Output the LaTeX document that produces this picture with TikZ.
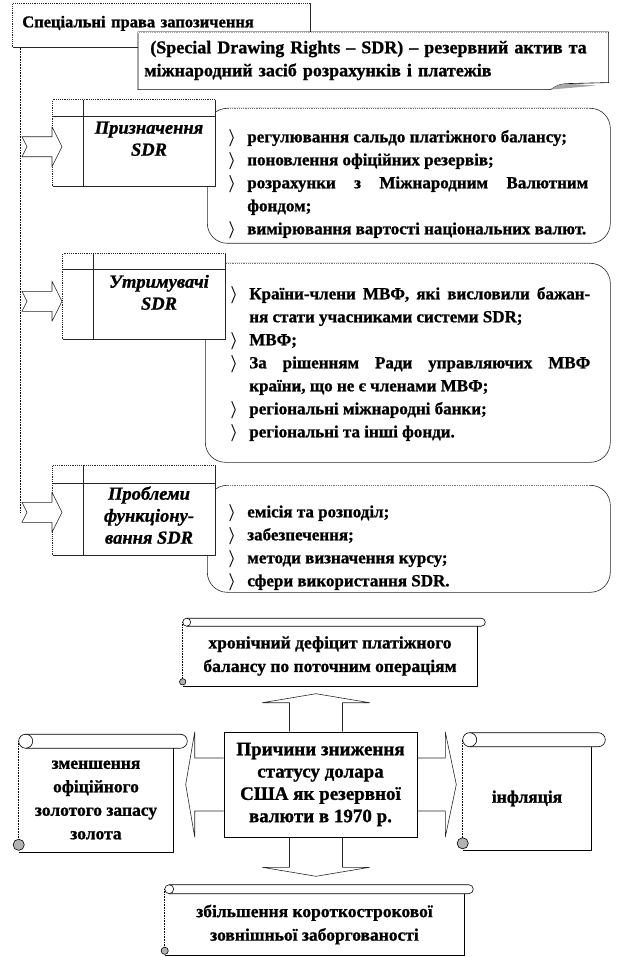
\documentclass[tikz,border=0pt]{standalone}
\usepackage{fontspec}
\setmainfont{Liberation Serif}[BoldFeatures={FakeBold=1},BoldItalicFeatures={FakeBold=1}]
\usetikzlibrary{calc,positioning}
\tikzstyle{every node}=[inner sep=0pt,font=\fontsize{17}{23}\selectfont\bfseries]
\tikzstyle{every path}=[line width=0.6pt,line join=round]
\tikzstyle{dotline}=[draw=white,dash pattern=on 1pt off 1.2pt,line width=0.8pt]
\tikzstyle{spineline}=[densely dotted,line width=0.9pt]
\tikzstyle{cell}=[anchor=north west,draw=black!85,fill=white]
\tikzstyle{listbox}=[anchor=north west,draw=black!85,rounded corners=20pt]
\tikzstyle{listtext}=[anchor=north west,align=justify]
\tikzstyle{celltext}=[anchor=north,align=center,font=\fontsize{18.5}{22}\selectfont\bfseries\itshape]
\tikzstyle{blockarrow}=[draw=black!85,fill=white]
\tikzstyle{scrolltext}=[align=center,font=\fontsize{17.5}{23.5}\selectfont\bfseries]
\hyphenpenalty=10000
\exhyphenpenalty=10000
\tolerance=9000
% bullet of the lists
\newcommand{\itm}{\par\hangindent=19pt\hangafter=1\noindent\makebox[19pt][l]{\boldmath$\rangle$}\strut}
% scroll round a text node: node, roll, half roll
\newcommand{\scrollframe}[3]{%
  \draw[fill=white,rounded corners=#3pt] ($(#1.north west)+(#3,-#2)$) -- ($(#1.north east)+(#2,-#2)$)
    -- ($(#1.north east)+(#2,0)$) -- ($(#1.north west)+(#3,0)$);
  \draw[fill=white] ($(#1.north west)+(#3,-#3)$) circle[radius=#3pt];
  \draw[densely dotted] ($(#1.north west)+(0,-#3)$) -- ($(#1.south west)+(0,-#3)$);
  \draw (#1.north east) -- (#1.south east) -- (#1.south west);
  \draw[fill=black!30] ($(#1.south west)+(0,-#3)$) circle[radius=0.8*#3pt];
}

\begin{document}
\begin{tikzpicture}[x=1pt,y=-1pt]
    \useasboundingbox (0,0) rectangle (621,957);

    % Title and definition
    \node[anchor=north west,draw=black!85,minimum width=298pt,text width=278pt,inner xsep=10pt,
          text height=24pt,text depth=20pt,align=left,font=\fontsize{16.5}{23}\selectfont\bfseries] (title) at (12,3)
        {Спеціальні права запозичення};
    \draw[dotline] (title.south west) -- (title.north west) -- (title.north east);
    \node[anchor=north west,fill=white,minimum width=470pt,text width=458pt,inner xsep=6pt,
          text height=21pt,text depth=36pt,align=left,font=\fontsize{18}{23}\selectfont\bfseries] (sdr) at (138,32)
        {\ (Special Drawing Rights -- SDR) -- резервний актив та\\міжнародний засіб розрахунків і платежів};
    \draw (sdr.north west) -- (sdr.north east) -- ($(sdr.south east)+(0,-7)$) -- ($(sdr.south east)+(-42,-6)$)
        .. controls ($(sdr.south east)+(-50,-5)$) .. ($(sdr.south east)+(-58,0)$) -- (sdr.south west) -- cycle;
    \fill[black!35] ($(sdr.south east)+(-58,0)$) .. controls ($(sdr.south east)+(-50,-5)$) .. ($(sdr.south east)+(-42,-6)$)
        -- ($(sdr.south east)+(-12,-4)$) -- cycle;
    \draw[dotline] (sdr.north west) -- (sdr.north east);
    \coordinate (spine) at ($(title.south west)+(8,0)$);

    % Purpose of SDR
    \node[listbox,minimum width=403pt,minimum height=135pt] (purpl) at (207,108) {};
    \draw[dotline] ($(purpl.north west)+(22,0)$) -- ($(purpl.north east)+(-22,0)$);
    \node[cell,minimum width=163pt,minimum height=87pt] (purp) at (52,99) {};
    \draw[black!85] ($(purp.north west)+(0,17)$) -- ($(purp.north east)+(0,17)$)
        ($(purp.north west)+(31,0)$) -- ($(purp.south west)+(31,0)$);
    \draw[dotline] (purp.south west) -- (purp.north west) -- (purp.north east);
    \node[celltext] (purpt) at (149,118) {\strut Призначення\\SDR};
    \node[listtext,text width=360pt] (purpi) at (228,119) {%
        \itm регулювання сальдо платіжного балансу;
        \itm поновлення офіційних резервів;
        \itm розрахунки з Міжнародним Валютним\linebreak фондом;
        \itm вимірювання вартості національних валют.};

    % Holders of SDR
    \node[listbox,minimum width=405pt,minimum height=199pt] (holdl) at (205,263) {};
    \draw[dotline] ($(holdl.north west)+(22,0)$) -- ($(holdl.north east)+(-22,0)$);
    \node[cell,minimum width=163pt,minimum height=86pt] (hold) at (62,253) {};
    \draw[black!85] ($(hold.north west)+(0,16)$) -- ($(hold.north east)+(0,16)$)
        ($(hold.north west)+(31,0)$) -- ($(hold.south west)+(31,0)$);
    \draw[dotline] (hold.south west) -- (hold.north west) -- (hold.north east);
    \node[celltext] (holdt) at (159,272) {\strut Утримувачі\\SDR};
    \node[listtext,text width=360pt] (holdi) at (230,276) {%
        \itm Країни-члени МВФ, які висловили бажан-\linebreak{}ня стати учасниками системи SDR;
        \itm МВФ;
        \itm За рішенням Ради управляючих МВФ\linebreak країни, що не є членами МВФ;
        \itm регіональні міжнародні банки;
        \itm регіональні та інші фонди.};

    % Problems of SDR
    \node[listbox,minimum width=403pt,minimum height=107pt] (probl) at (207,485) {};
    \draw[dotline] ($(probl.north west)+(22,0)$) -- ($(probl.north east)+(-22,0)$);
    \node[cell,minimum width=163pt,minimum height=90pt] (prob) at (52,465) {};
    \draw[black!85] ($(prob.north west)+(0,18)$) -- ($(prob.north east)+(0,18)$)
        ($(prob.north west)+(31,0)$) -- ($(prob.south west)+(31,0)$);
    \draw[dotline] (prob.south west) -- (prob.north west) -- (prob.north east);
    \node[celltext] (probt) at (149,484) {\strut Проблеми\\функціону-\\вання SDR};
    \node[listtext,text width=360pt] (probi) at (228,494) {%
        \itm емісія та розподіл;
        \itm забезпечення;
        \itm методи визначення курсу;
        \itm сфери використання SDR.};

    % Arrows from the spine
    \coordinate (a1) at ($(purp.west)+(10,4)$);
    \coordinate (a2) at ($(hold.west)+(0,5)$);
    \coordinate (a3) at ($(prob.west)+(10,2)$);
    \draw[spineline] (spine) -- (spine |- a3);
    \foreach \tip in {a1,a2,a3}
        \draw[blockarrow] (\tip) -- ++(-10,-20) -- ++(0,10) -- ++(-30,0) -- ++(5,10)
            -- ++(-5,10) -- ++(30,0) -- ++(0,10) -- cycle;

    % Causes of the dollar decline
    \node[draw=black,minimum width=193pt,minimum height=105pt,align=center,
          font=\fontsize{19}{22.3}\selectfont\bfseries] (cause) at (320.5,784.5)
        {Причини зниження\\статусу долара\\США як резервної\\валюти в 1970 р.};
    \node[scrolltext,minimum width=294pt,minimum height=59pt] (deficit) at (330,656)
        {хронічний дефіцит платіжного\\балансу по поточним операціям};
    \node[scrolltext,minimum width=154pt,minimum height=103pt] (shrink) at (96,800)
        {зменшення\\офіційного\\золотого запасу\\золота};
    \node[scrolltext,minimum width=128pt,minimum height=103pt] (infl) at (527,798.5) {інфляція};
    \node[scrolltext,minimum width=299pt,minimum height=61pt] (debt) at (314.5,924.5)
        {збільшення короткострокової\\зовнішньої заборгованості};
    \scrollframe{deficit}{8}{4}
    \scrollframe{shrink}{14}{7}
    \scrollframe{infl}{14}{7}
    \scrollframe{debt}{9}{4.5}

    % Wide arrows round the causes
    \coordinate (upc) at ($(cause.north)+(-4.5,0)$);
    \coordinate (dnc) at ($(cause.south)+(-4.5,0)$);
    \draw[black!85] (upc) ++(-26.5,0) -- ++(0,-29) -- ++(-27,0) -- ++(53.5,-9) -- ++(53.5,9) -- ++(-27,0) -- ++(0,29);
    \draw[black!85] (dnc) ++(-26.5,0) -- ++(0,30) -- ++(-27,0) -- ++(53.5,9) -- ++(53.5,-9) -- ++(-27,0) -- ++(0,-30);
    \draw[black!85] (cause.west) ++(0,-26.5) -- ++(-29,0) -- ++(0,-26) -- ++(-9,52.5) -- ++(9,52.5) -- ++(0,-26) -- ++(29,0);
    \draw[black!85] (cause.east) ++(0,-26.5) -- ++(28,0) -- ++(0,-26) -- ++(11,52.5) -- ++(-11,52.5) -- ++(0,-26) -- ++(-28,0);
\end{tikzpicture}
\end{document}
